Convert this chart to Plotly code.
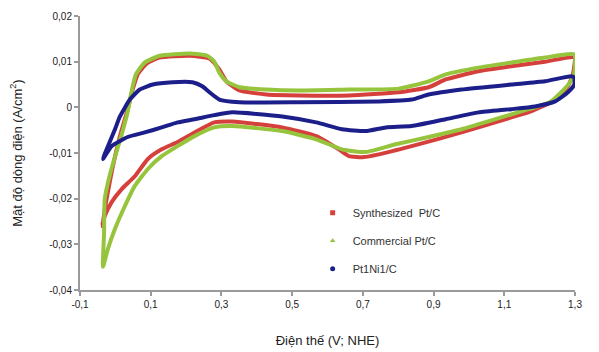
import plotly.graph_objects as go

# ---- data (potential V vs NHE, current density A/cm2) ----
syn_v = [-0.038, -0.021, -0.007, 0.013, 0.035, 0.049, 0.063, 0.089, 0.125, 0.210, 0.266, 0.294,
         0.314, 0.351, 0.427, 0.520, 0.661, 0.801, 0.886, 0.934, 1.027, 1.120, 1.215, 1.298,
         1.294, 1.280, 1.261, 1.232, 1.168, 1.120, 0.979, 0.838, 0.745, 0.703, 0.661, 0.632,
         0.568, 0.472, 0.331, 0.280, 0.224, 0.176, 0.131, 0.092, 0.055, 0.018, -0.010, -0.030, -0.038]
syn_i = [-0.0260, -0.0185, -0.0129, -0.0063, -0.0004, 0.0039, 0.0072, 0.0096, 0.0109, 0.0113, 0.0107, 0.0083,
         0.0057, 0.0037, 0.0028, 0.0026, 0.0026, 0.0033, 0.0044, 0.0061, 0.0079, 0.0090, 0.0100, 0.0109,
         0.0072, 0.0046, 0.0028, 0.0011, -0.0011, -0.0022, -0.0055, -0.0085, -0.0103, -0.0109, -0.0107, -0.0092,
         -0.0063, -0.0044, -0.0031, -0.0033, -0.0055, -0.0076, -0.0092, -0.0113, -0.0151, -0.0179, -0.0207, -0.0238, -0.0260]

com_v = [-0.035, -0.032, -0.030, -0.015, 0.001, 0.018, 0.035, 0.046, 0.058, 0.083, 0.125, 0.210, 0.260,
         0.280, 0.294, 0.314, 0.351, 0.427, 0.520, 0.661, 0.801, 0.886, 0.934, 1.027, 1.120, 1.215, 1.298,
         1.298, 1.286, 1.261, 1.232, 1.187, 1.168, 1.075, 0.979, 0.886, 0.793, 0.708, 0.641, 0.568, 0.472,
         0.331, 0.280, 0.224, 0.176, 0.131, 0.092, 0.055, 0.027, -0.001, -0.021, -0.035]
com_i = [-0.0349, -0.0277, -0.0201, -0.0146, -0.0103, -0.0059, -0.0009, 0.0035, 0.0072, 0.0098, 0.0113, 0.0118, 0.0113,
         0.0100, 0.0076, 0.0057, 0.0044, 0.0039, 0.0037, 0.0039, 0.0041, 0.0057, 0.0072, 0.0087, 0.0098, 0.0109, 0.0116,
         0.0076, 0.0055, 0.0033, 0.0013, 0.0000, -0.0004, -0.0026, -0.0048, -0.0065, -0.0081, -0.0098, -0.0092, -0.0070, -0.0052,
         -0.0041, -0.0044, -0.0063, -0.0085, -0.0107, -0.0135, -0.0172, -0.0216, -0.0266, -0.0310, -0.0349]

ptni_v = [-0.035, -0.021, -0.001, 0.013, 0.041, 0.069, 0.106, 0.162, 0.218, 0.246, 0.266, 0.294, 0.351,
          0.520, 0.745, 0.838, 0.886, 0.979, 1.120, 1.215, 1.289, 1.298,
          1.298, 1.280, 1.244, 1.187, 1.120, 1.027, 0.934, 0.838, 0.765, 0.708, 0.641, 0.568, 0.472,
          0.331, 0.280, 0.224, 0.176, 0.131, 0.083, 0.035, -0.010, -0.035]
ptni_i = [-0.0113, -0.0085, -0.0048, -0.0020, 0.0017, 0.0039, 0.0050, 0.0055, 0.0055, 0.0046, 0.0033, 0.0017, 0.0011,
          0.0011, 0.0013, 0.0017, 0.0028, 0.0039, 0.0050, 0.0057, 0.0068, 0.0065,
          0.0050, 0.0033, 0.0013, 0.0002, -0.0004, -0.0011, -0.0026, -0.0041, -0.0044, -0.0052, -0.0048, -0.0033, -0.0020,
          -0.0011, -0.0017, -0.0026, -0.0033, -0.0044, -0.0055, -0.0065, -0.0085, -0.0113]

series_names = ["Synthesized  Pt/C", "Commercial Pt/C", "Pt1Ni1/C"]
colors = ["#d6403c", "#96c43c", "#1c1f8a"]
symbols = ["square", "triangle-up", "circle"]

x_ticks = [-0.1, 0.1, 0.3, 0.5, 0.7, 0.9, 1.1, 1.3]
x_ticktext = ["-0,1", "0,1", "0,3", "0,5", "0,7", "0,9", "1,1", "1,3"]
y_ticks = [-0.04, -0.03, -0.02, -0.01, 0, 0.01, 0.02]
y_ticktext = ["-0,04", "-0,03", "-0,02", "-0,01", "0", "0,01", "0,02"]

fig = go.Figure()
data = [(syn_v, syn_i), (com_v, com_i), (ptni_v, ptni_i)]
for (v, i), name, c, s in zip(data, series_names, colors, symbols):
    fig.add_trace(go.Scatter(x=v, y=i, mode="lines", line=dict(color=c, width=4, shape="spline", smoothing=0.5),
                             showlegend=False, hoverinfo="skip"))
for name, c, s in zip(series_names, colors, symbols):
    fig.add_trace(go.Scatter(x=[None], y=[None], mode="markers", name=name, legendgroup=name,
                             marker=dict(color=c, symbol=s, size=5)))

axis_common = dict(showgrid=False, zeroline=False, showline=True, linecolor="#9a9a9a", linewidth=2,
                   ticks="outside", ticklen=4, tickwidth=2, tickcolor="#9a9a9a", automargin=False,
                   tickfont=dict(family="Liberation Sans, Arial", size=10, color="#222"))

fig.update_layout(
    width=591, height=344,
    margin=dict(l=72, r=24, t=8, b=62),
    paper_bgcolor="white", plot_bgcolor="white",
    font=dict(family="Liberation Sans, Arial", color="#222"),
    xaxis=dict(range=[-0.1, 1.3], tickvals=x_ticks, ticktext=x_ticktext,
               title=dict(text="Điện thế (V; NHE)", font=dict(size=13), standoff=27), **axis_common),
    yaxis=dict(range=[-0.04, 0.02], tickvals=y_ticks, ticktext=y_ticktext,
               title=dict(text="Mật độ dòng điện (A/cm<sup>2</sup>)", font=dict(size=13), standoff=24), **axis_common),
    legend=dict(x=0.47, y=0.335, xanchor="left", yanchor="top", bgcolor="rgba(255,255,255,0)",
                font=dict(size=11, color="#333"), tracegroupgap=9, itemwidth=30),
)

fig.write_html("out.html")
